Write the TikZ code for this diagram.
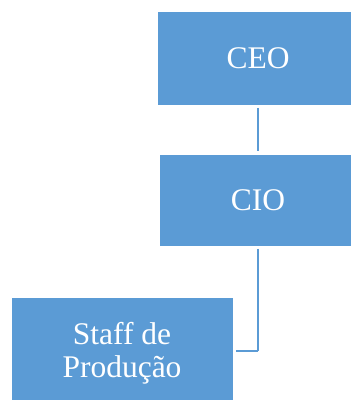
\documentclass[tikz,border=0pt]{standalone}
\usepackage{fontspec}
\setmainfont{Liberation Serif}
\definecolor{boxblue}{HTML}{5B9BD5}
\begin{document}
\begin{tikzpicture}[x=1pt,y=-1pt,
  orgbox/.style={rectangle, fill=boxblue, draw=white, line width=0.8pt,
    text=white, align=center, inner sep=0pt,
    font=\fontsize{31.5}{33}\selectfont},
  link/.style={draw=boxblue, line width=2pt, shorten <=2.5pt, shorten >=2.5pt}]
  \useasboundingbox (0,0) rectangle (351,400);
  \node[orgbox, minimum width=202pt, minimum height=94pt] (ceo) at (258,58) {CEO};
  \node[orgbox, minimum width=198pt, minimum height=92pt] (cio) at (258,200) {CIO};
  \node[orgbox, minimum width=222pt, minimum height=112pt] (staff) at (122,353) {Staff de\\Produção};
  \coordinate (bend) at (cio.south |- 0,351);
  \draw[link] (ceo.south) -- (cio.north);
  \draw[link, shorten >=0pt] (cio.south) -- (bend);
  \draw[link, shorten <=0pt] (bend) -- (staff.east |- bend);
\end{tikzpicture}
\end{document}
